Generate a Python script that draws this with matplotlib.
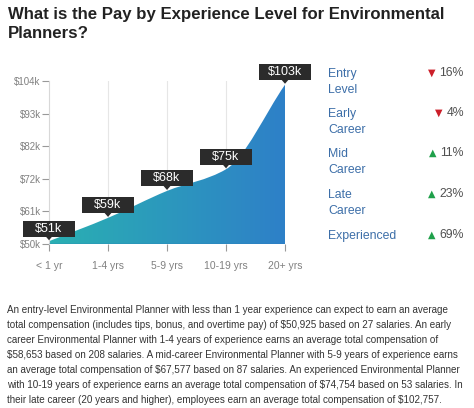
import matplotlib
matplotlib.use("Agg")
import matplotlib.pyplot as plt
import numpy as np
from matplotlib.path import Path
from matplotlib.patches import PathPatch, Rectangle, Polygon
from matplotlib.colors import LinearSegmentedColormap
from matplotlib.transforms import ScaledTranslation

# data
categories = ["< 1 yr", "1-4 yrs", "5-9 yrs", "10-19 yrs", "20+ yrs"]
pay = [50925, 58653, 67577, 74754, 102757]
pay_labels = ["$51k", "$59k", "$68k", "$75k", "$103k"]
ytick_vals = [50, 60.8, 71.6, 82.4, 93.2, 104]
ytick_labels = ["$50k", "$61k", "$72k", "$82k", "$93k", "$104k"]

levels = ["Entry\nLevel", "Early\nCareer", "Mid\nCareer", "Late\nCareer", "Experienced"]
changes = [-16, -4, 11, 23, 69]

title = "What is the Pay by Experience Level for Environmental\nPlanners?"
para = ("An entry-level Environmental Planner with less than 1 year experience can expect to earn an average\n"
        "total compensation (includes tips, bonus, and overtime pay) of $50,925 based on 27 salaries. An early\n"
        "career Environmental Planner with 1-4 years of experience earns an average total compensation of\n"
        "$58,653 based on 208 salaries. A mid-career Environmental Planner with 5-9 years of experience earns\n"
        "an average total compensation of $67,577 based on 87 salaries. An experienced Environmental Planner\n"
        "with 10-19 years of experience earns an average total compensation of $74,754 based on 53 salaries. In\n"
        "their late career (20 years and higher), employees earn an average total compensation of $102,757.")

plt.rcParams['font.family'] = ['Liberation Sans', 'DejaVu Sans']

W, H = 474, 408
fig = plt.figure(figsize=(W / 100, H / 100), dpi=100)

def fx(px):
    return px / W

def fy(py):
    return 1 - py / H

ax = fig.add_axes([fx(49), fy(244), fx(285) - fx(49), fy(81) - fy(244)])
x = np.arange(len(pay))
y = np.array(pay) / 1000.0
ax.set_xlim(0, len(pay) - 1)
ax.set_ylim(50, 104)

# smooth path via monotone cubic bezier segments
n = len(x)
d = np.diff(y) / np.diff(x)
m = np.zeros(n)
m[0], m[-1] = d[0], d[-1]
for i in range(1, n - 1):
    if d[i - 1] * d[i] <= 0:
        m[i] = 0
    else:
        m[i] = 2 / (1 / d[i - 1] + 1 / d[i])
verts = [(x[0], 50), (x[0], y[0])]
codes = [Path.MOVETO, Path.LINETO]
for i in range(n - 1):
    h = x[i + 1] - x[i]
    verts += [(x[i] + h / 3, y[i] + m[i] * h / 3),
              (x[i + 1] - h / 3, y[i + 1] - m[i + 1] * h / 3),
              (x[i + 1], y[i + 1])]
    codes += [Path.CURVE4] * 3
verts += [(x[-1], 50), (x[0], 50)]
codes += [Path.LINETO, Path.CLOSEPOLY]
patch = PathPatch(Path(verts, codes), facecolor='none', edgecolor='none')
ax.add_patch(patch)

cmap = LinearSegmentedColormap.from_list("g", ["#2AB0B2", "#2E80C8"])
grad = np.linspace(0, 1, 256).reshape(1, -1)
im = ax.imshow(grad, cmap=cmap, extent=[0, n - 1, 50, 104], aspect='auto', zorder=2)
im.set_clip_path(patch)
ax.plot([0, n - 1], [50, 50], color='#2A78B8', lw=1, zorder=3)

for xi in x[1:]:
    ax.axvline(xi, color='#e6e6e6', lw=0.8, zorder=1)

for s in ['top', 'right', 'bottom']:
    ax.spines[s].set_visible(False)
ax.spines['left'].set_color('#d8d8d8')
ax.spines['left'].set_linewidth(0.8)

ax.set_yticks(ytick_vals)
ax.set_yticklabels(ytick_labels)
ax.set_xticks(x)
ax.set_xticklabels(categories)
ax.tick_params(axis='y', length=5, color='#999999', labelsize=7, labelcolor='#808080', pad=1)
ax.tick_params(axis='x', length=5, color='#999999', labelsize=7.5, labelcolor='#808080', pad=7)

# value labels: dark box with pointer, sized in inches around the point
bw, bh, boff = 0.52, 0.16, 0.045
for xi, yi, lab in zip(x, y, pay_labels):
    tr = fig.dpi_scale_trans + ScaledTranslation(xi, yi, ax.transData)
    ax.add_patch(Rectangle((-bw / 2, boff), bw, bh, transform=tr, fc='#2b2b2b',
                           ec='none', clip_on=False, zorder=5))
    ax.add_patch(Polygon([(-0.035, boff + 0.005), (0.035, boff + 0.005), (0, 0.01)],
                         closed=True, transform=tr, fc='#2b2b2b', ec='none',
                         clip_on=False, zorder=5))
    ax.text(0, boff + bh / 2, lab, transform=tr, ha='center', va='center',
            color='white', fontsize=9, zorder=6)

# right side list
row_y = [73, 113, 153, 194, 235]
fig.canvas.draw()
r = fig.canvas.get_renderer()
for lvl, ch, ry in zip(levels, changes, row_y):
    fig.text(fx(328), fy(ry - 5), lvl, ha='left', va='top', fontsize=8.8,
             color='#3C6EA8', linespacing=1.45)
    sym = "\u25bc" if ch < 0 else "\u25b2"
    col = '#CC1F2A' if ch < 0 else '#1FA04A'
    t = fig.text(fx(464), fy(ry), f"{abs(ch)}%", ha='right', va='center',
                 fontsize=8.8, color='#505050')
    tw = t.get_window_extent(r).width
    fig.text(fx(464 - tw - 4), fy(ry), sym, ha='right', va='center', fontsize=7,
             color=col, family=['DejaVu Sans'])

fig.text(fx(8), fy(24), title, ha='left', va='center', fontsize=12.1,
         fontweight='bold', color='#222222', linespacing=1.4)

fig.text(fx(7), fy(355), para, ha='left', va='center', fontsize=7.1,
         color='#333333', linespacing=1.64)

fig.savefig("out.png", dpi=100)
